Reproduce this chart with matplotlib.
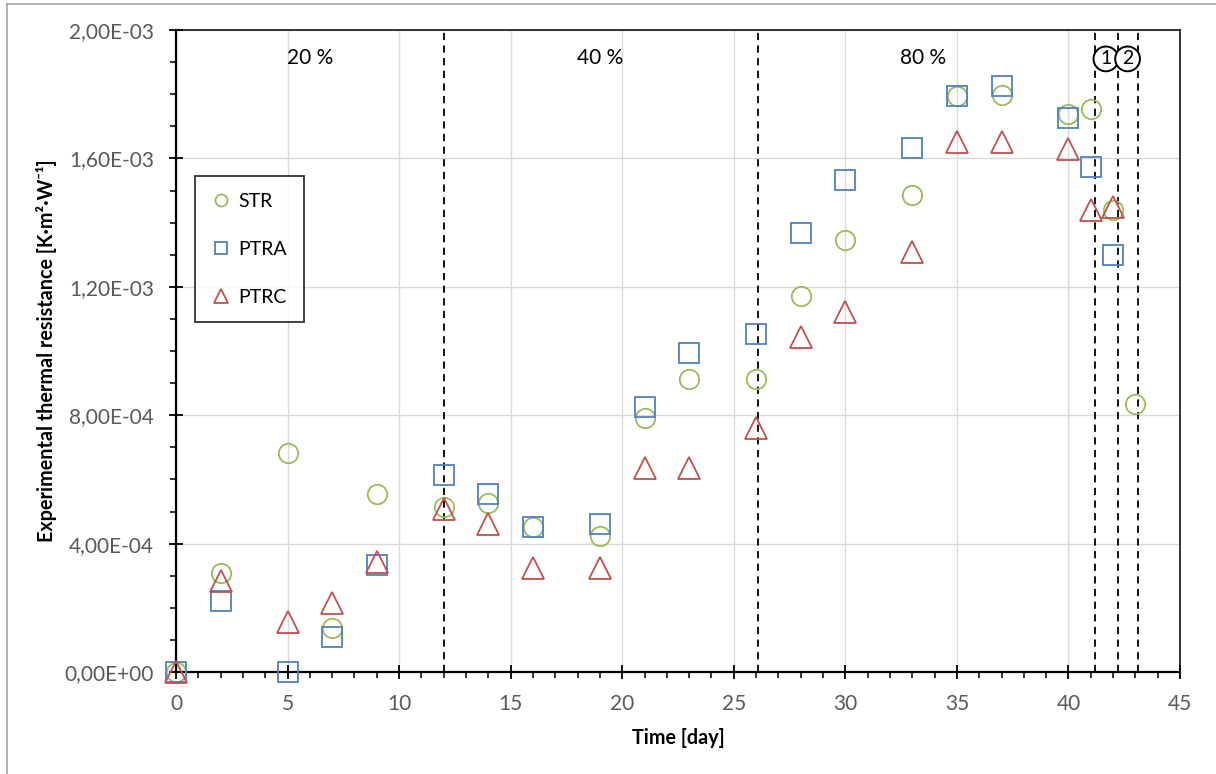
import numpy as np
import matplotlib.pyplot as plt
from matplotlib.ticker import MultipleLocator, FuncFormatter
from matplotlib.lines import Line2D

plt.rcParams['font.family'] = ['Lato', 'DejaVu Sans']

# Data
days_str = [0, 2, 5, 7, 9, 12, 14, 16, 19, 21, 23, 26, 28, 30, 33, 35, 37, 40, 41, 42, 43]
str_vals = [0, 3.07e-4, 6.81e-4, 1.36e-4, 5.55e-4, 5.13e-4, 5.27e-4, 4.53e-4, 4.25e-4,
            7.90e-4, 9.13e-4, 9.13e-4, 1.171e-3, 1.346e-3, 1.486e-3, 1.794e-3, 1.797e-3,
            1.738e-3, 1.754e-3, 1.440e-3, 8.35e-4]

days_ptr = [0, 2, 5, 7, 9, 12, 14, 16, 19, 21, 23, 26, 28, 30, 33, 35, 37, 40, 41, 42]
ptra_vals = [0, 2.21e-4, 0, 1.08e-4, 3.33e-4, 6.14e-4, 5.55e-4, 4.53e-4, 4.60e-4,
             8.26e-4, 9.94e-4, 1.053e-3, 1.368e-3, 1.533e-3, 1.632e-3, 1.794e-3, 1.826e-3,
             1.726e-3, 1.573e-3, 1.300e-3]
ptrc_vals = [0, 2.84e-4, 1.57e-4, 2.16e-4, 3.43e-4, 5.09e-4, 4.62e-4, 3.23e-4, 3.23e-4,
             6.36e-4, 6.36e-4, 7.60e-4, 1.044e-3, 1.120e-3, 1.308e-3, 1.651e-3, 1.651e-3,
             1.630e-3, 1.440e-3, 1.450e-3]

phase_lines = [12, 26.1, 41.2, 42.2, 43.1]
phase_labels = ['20 %', '40 %', '80 %']
phase_label_x = [6, 19, 33.5]
step_labels = ['1', '2']
step_label_x = [41.68, 42.65]

fig = plt.figure(figsize=(12.16, 7.74), dpi=100)
ax = fig.add_axes([176 / 1216, 102 / 774, 1004 / 1216, 642 / 774])

# outer frame of the original chart area
fig.add_artist(Line2D([7 / 1216, 7 / 1216], [0, 1 - 4 / 774], color='#a6a6a6', lw=1.2))
fig.add_artist(Line2D([7 / 1216, 1], [1 - 4 / 774, 1 - 4 / 774], color='#a6a6a6', lw=1.2))

green = '#9bbb59'
blue = '#4f81bd'
red = '#c0504d'

ax.plot(days_str, str_vals, 'o', ms=14, mfc='none', mec=green, mew=1.3,
        label='STR', clip_on=False, zorder=4)
ax.plot(days_ptr, ptra_vals, 's', ms=14, mfc='none', mec=blue, mew=1.3,
        label='PTRA', clip_on=False, zorder=4)
ax.plot(days_ptr, ptrc_vals, '^', ms=15.5, mfc='none', mec=red, mew=1.3,
        label='PTRC', clip_on=False, zorder=4)

for d in phase_lines:
    ax.axvline(d, color='black', lw=1.3, ls=(0, (4, 3)), zorder=3)

for lab, x in zip(phase_labels, phase_label_x):
    ax.text(x, 1.914e-3, lab, ha='center', va='center', fontsize=15, color='black')

for lab, x in zip(step_labels, step_label_x):
    ax.text(x, 1.91e-3, lab, ha='center', va='center', fontsize=14, color='black',
            bbox=dict(boxstyle='circle,pad=0.2', fc='white', ec='black', lw=1.4), zorder=5)

ax.set_xlim(0, 45)
ax.set_ylim(0, 2e-3)
ax.xaxis.set_major_locator(MultipleLocator(5))
ax.xaxis.set_minor_locator(MultipleLocator(1))
ax.yaxis.set_major_locator(MultipleLocator(4e-4))
ax.yaxis.set_minor_locator(MultipleLocator(1e-4))
ax.yaxis.set_major_formatter(FuncFormatter(lambda v, p: f'{v:.2E}'.replace('.', ',')))

ax.grid(which='major', color='#d9d9d9', lw=1.0, zorder=0)
ax.set_axisbelow(True)

ax.tick_params(which='major', direction='inout', length=10, width=1.3,
               labelsize=15, labelcolor='#595959', pad=11)
ax.tick_params(which='minor', direction='out', length=4.5, width=1.1)

for s in ['left', 'bottom']:
    ax.spines[s].set_linewidth(1.6)
for s in ['top', 'right']:
    ax.spines[s].set_linewidth(1.1)

ax.set_xlabel('Time [day]', fontsize=14.2, fontweight='bold', labelpad=10)
ax.set_ylabel('Experimental thermal resistance [K·m²·W⁻¹]', fontsize=14.2,
              fontweight='bold', labelpad=5)

leg = ax.legend(loc='upper left', bbox_to_anchor=(0.0186, 0.7726), markerscale=0.62,
                fontsize=14, frameon=True, fancybox=False, edgecolor='black',
                labelspacing=1.6, borderpad=0.85, handlelength=1.0, handletextpad=0.4,
                borderaxespad=0)
leg.get_frame().set_linewidth(1.3)

fig.savefig('out.png', dpi=100)
